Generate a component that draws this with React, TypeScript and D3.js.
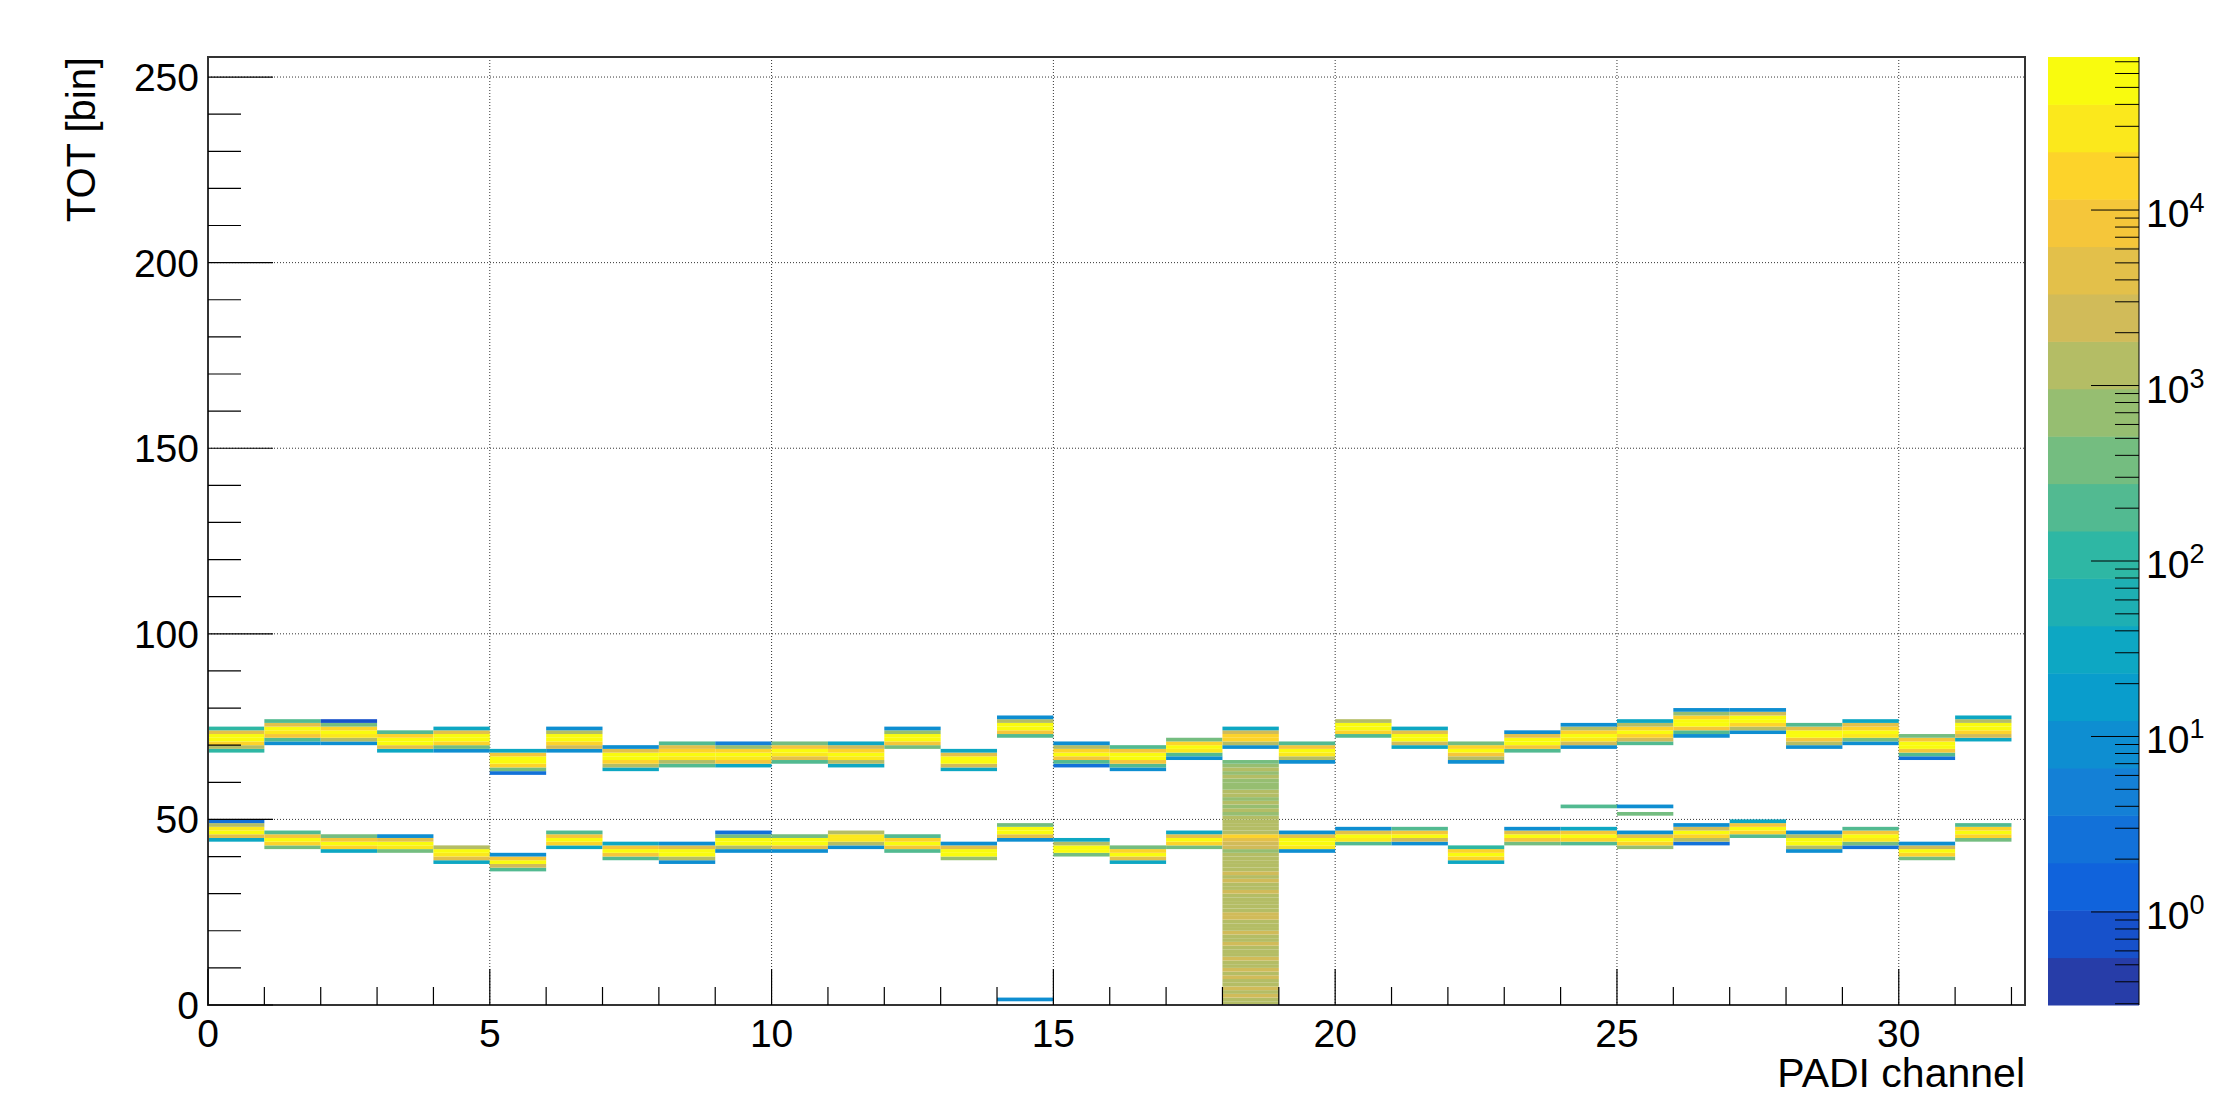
import { useEffect } from "react";
import * as d3 from "d3";

// histogram axes (x: PADI channel, y: TOT bin, z: counts, log)
const xRange: [number, number] = [0, 32.24];
const yRange: [number, number] = [0, 255.4];
const zRange: [number, number] = [0.295, 74500];
const nContours = 20;

const xMajorTicks = [0, 5, 10, 15, 20, 25, 30];
const yMajorTicks = [0, 50, 100, 150, 200, 250];
const zDecades = [0, 1, 2, 3, 4];

// upper TOT cluster per channel: first bin and counts (bottom -> top)
const upperStart = [68, 70, 70, 68, 68, 62, 68, 63, 64, 64, 65, 64, 69, 63, 72, 64,
  63, 66, 69, 65, 72, 69, 65, 68, 69, 70, 72, 73, 69, 70, 66, 71];
const upperCounts: number[][] = [
  [110, 1300, 12000, 50000, 50000, 4500, 110],
  [9, 150, 8000, 30000, 50000, 4500, 150],
  [9, 1300, 30000, 50000, 12000, 500, 1],
  [30, 4500, 40000, 50000, 15000, 150],
  [8, 400, 12000, 50000, 50000, 4500, 30],
  [2, 400, 15000, 50000, 50000, 8000, 30],
  [9, 2000, 15000, 50000, 40000, 1300, 9],
  [30, 1300, 15000, 40000, 40000, 4500, 9],
  [150, 1300, 30000, 50000, 20000, 4500, 150],
  [30, 10000, 30000, 40000, 15000, 600, 4],
  [150, 4500, 30000, 50000, 10000, 400],
  [30, 1300, 30000, 40000, 15000, 2000, 30],
  [500, 10000, 50000, 40000, 600, 9],
  [30, 3000, 50000, 50000, 4500, 30],
  [150, 10000, 50000, 40000, 1300, 9],
  [3, 150, 10000, 40000, 15000, 1300, 9],
  [8, 150, 10000, 40000, 50000, 10000, 150],
  [9, 200, 30000, 50000, 12000, 500],
  [9, 1300, 12000, 15000, 3000, 30],
  [9, 1300, 30000, 50000, 10000, 150],
  [200, 15000, 50000, 40000, 1300],
  [30, 3000, 40000, 50000, 4500, 30],
  [9, 1000, 10000, 40000, 15000, 500],
  [150, 10000, 40000, 50000, 4500, 12],
  [12, 3000, 30000, 50000, 15000, 1300, 9],
  [150, 3000, 15000, 50000, 15000, 1300, 30],
  [9, 150, 10000, 40000, 50000, 15000, 600, 8],
  [8, 1000, 12000, 50000, 40000, 3000, 9],
  [9, 1300, 10000, 50000, 40000, 4500, 150],
  [9, 500, 30000, 50000, 15000, 4500, 30],
  [3, 150, 10000, 40000, 50000, 10000, 400],
  [30, 3000, 12000, 50000, 40000, 1300, 30],
];

// lower TOT cluster per channel (channel 18 is covered by its full column)
const lowerStart = [44, 42, 41, 41, 38, 36, 42, 39, 38, 41, 41, 42, 41, 39, 44, 40,
  38, 42, -1, 41, 43, 43, 38, 43, 43, 42, 43, 45, 41, 42, 39, 44];
const lowerCounts: number[][] = [
  [30, 4500, 50000, 30000, 1300, 2],
  [400, 15000, 50000, 10000, 150],
  [30, 15000, 50000, 10000, 500],
  [500, 30000, 50000, 4500, 9],
  [30, 4500, 30000, 50000, 1300],
  [150, 2000, 50000, 10000, 9],
  [30, 15000, 50000, 10000, 150],
  [150, 10000, 50000, 10000, 30],
  [8, 1300, 40000, 40000, 4500, 9],
  [9, 1300, 40000, 40000, 500, 2],
  [9, 4500, 40000, 40000, 300],
  [9, 1000, 30000, 30000, 1500],
  [150, 10000, 50000, 15000, 150],
  [700, 40000, 40000, 4500, 12],
  [9, 4500, 40000, 40000, 500],
  [500, 40000, 40000, 1300, 30],
  [30, 4500, 40000, 15000, 500],
  [400, 15000, 50000, 4500, 30],
  [],
  [8, 30000, 40000, 40000, 4500, 9],
  [150, 30000, 50000, 4500, 8],
  [9, 3000, 50000, 10000, 150],
  [30, 12000, 50000, 15000, 100],
  [300, 10000, 50000, 4500, 9],
  [150, 12000, 50000, 10000, 30],
  [600, 15000, 50000, 4500, 9],
  [3, 1300, 15000, 40000, 3000, 9],
  [150, 12000, 50000, 10000, 30],
  [9, 1300, 40000, 50000, 1300, 9],
  [3, 500, 30000, 50000, 10000, 150],
  [500, 15000, 50000, 3000, 9],
  [400, 12000, 50000, 15000, 150],
];

// channel 18: filled from bin 0 up to bin 65
const column18Channel = 18;
const column18Counts = [
  1300, 1400, 1800, 1500, 1800, 1500, 1400, 1900, 1500, 1800,
  1300, 1400, 1900, 1500, 1300, 1400, 2000, 1300, 1400, 1900,
  1500, 1300, 1400, 2200, 2000, 1500, 1300, 1400, 1300, 1400,
  1900, 1200, 1300, 2000, 1200, 2000, 1300, 1300, 1300, 1300,
  1100, 700, 2000, 3000, 4000, 12000, 1500, 1400, 1300, 1300,
  1200, 800, 1000, 800, 1100, 900, 1200, 1100, 700, 800,
  700, 1200, 700, 1100, 600, 300,
];

// isolated cells: [channel, bin, counts]
const strayCells: [number, number, number][] = [
  [14, 1, 9],
  [24, 53, 150],
  [25, 53, 9],
  [25, 51, 300],
];

// ROOT kBird palette
const birdStops = [0, 0.125, 0.25, 0.375, 0.5, 0.625, 0.75, 0.875, 1];
const birdR = [0.2082, 0.0592, 0.078, 0.0232, 0.1802, 0.5301, 0.8186, 0.9956, 0.9764];
const birdG = [0.1664, 0.3599, 0.5041, 0.6419, 0.7178, 0.7492, 0.7328, 0.7862, 0.9832];
const birdB = [0.5293, 0.8684, 0.8385, 0.7914, 0.6425, 0.4662, 0.3499, 0.1968, 0.0539];

function bird(t: number) {
  let i = 1;
  while (i < birdStops.length - 1 && t > birdStops[i]) i++;
  const f = (t - birdStops[i - 1]) / (birdStops[i] - birdStops[i - 1]);
  const ch = (a: number[]) => Math.round(255 * (a[i - 1] + f * (a[i] - a[i - 1])));
  return `rgb(${ch(birdR)},${ch(birdG)},${ch(birdB)})`;
}

const bandColor = (k: number) => bird(Math.floor(((k + 0.99) * 255) / nContours) / 254);

function zBand(z: number) {
  const lo = Math.log10(zRange[0]);
  const hi = Math.log10(zRange[1]);
  const k = Math.floor(((Math.log10(z) - lo) / (hi - lo)) * nContours);
  return Math.max(0, Math.min(nContours - 1, k));
}

const font = "'Liberation Sans', Arial, sans-serif";

export default function App() {
  useEffect(() => {
    document.body.style.margin = "0";
  }, []);

  const frame = { x0: 208, x1: 2025, y0: 57, y1: 1005 };
  const x = d3.scaleLinear().domain(xRange).range([frame.x0, frame.x1]);
  const y = d3.scaleLinear().domain(yRange).range([frame.y1, frame.y0]);
  const bar = { x0: 2048, x1: 2139 };
  const z = d3.scaleLog().domain(zRange).range([frame.y1, frame.y0]);

  // collect cells
  const cells: { c: number; b: number; n: number }[] = [];
  upperCounts.forEach((arr, c) => arr.forEach((n, i) => cells.push({ c, b: upperStart[c] + i, n })));
  lowerCounts.forEach((arr, c) => arr.forEach((n, i) => cells.push({ c, b: lowerStart[c] + i, n })));
  column18Counts.forEach((n, b) => cells.push({ c: column18Channel, b, n }));
  strayCells.forEach(([c, b, n]) => cells.push({ c, b, n }));

  const xMinor = d3.range(0, 33).filter((v) => !xMajorTicks.includes(v));
  const yMinor = d3.range(0, 251, 10).filter((v) => !yMajorTicks.includes(v));
  const zMinor: number[] = [];
  [-1, 0, 1, 2, 3, 4].forEach((e) =>
    d3.range(2, 10).forEach((m) => {
      const v = m * Math.pow(10, e);
      if (v > zRange[0] && v < zRange[1]) zMinor.push(v);
    })
  );

  const bands = d3.range(nContours);
  const lz0 = Math.log10(zRange[0]);
  const lz1 = Math.log10(zRange[1]);
  const bandEdge = (k: number) => Math.pow(10, lz0 + ((lz1 - lz0) * k) / nContours);

  return (
    <svg width={2233} height={1108} style={{ display: "block", background: "#fff" }} fontFamily={font}>
      {/* grid */}
      <g stroke="#000" strokeWidth={1} strokeDasharray="1,2" opacity={0.8}>
        {xMajorTicks.filter((v) => v > 0).map((v) => (
          <line key={"gx" + v} x1={x(v)} x2={x(v)} y1={frame.y0} y2={frame.y1} />
        ))}
        {yMajorTicks.filter((v) => v > 0).map((v) => (
          <line key={"gy" + v} x1={frame.x0} x2={frame.x1} y1={y(v)} y2={y(v)} />
        ))}
      </g>

      {/* histogram cells */}
      <g>
        {cells.map((d, i) => (
          <rect
            key={i}
            x={x(d.c)}
            y={y(d.b + 1)}
            width={x(d.c + 1) - x(d.c)}
            height={y(d.b) - y(d.b + 1)}
            fill={bandColor(zBand(d.n))}
          />
        ))}
      </g>

      {/* frame */}
      <rect x={frame.x0} y={frame.y0} width={frame.x1 - frame.x0} height={frame.y1 - frame.y0}
        fill="none" stroke="#333" strokeWidth={2} />

      {/* x axis ticks */}
      <g stroke="#000" strokeWidth={1.2}>
        {xMajorTicks.map((v) => (
          <line key={"xM" + v} x1={x(v)} x2={x(v)} y1={frame.y1} y2={frame.y1 - 36} />
        ))}
        {xMinor.map((v) => (
          <line key={"xm" + v} x1={x(v)} x2={x(v)} y1={frame.y1} y2={frame.y1 - 18} />
        ))}
        {yMajorTicks.map((v) => (
          <line key={"yM" + v} x1={frame.x0} x2={frame.x0 + 65} y1={y(v)} y2={y(v)} />
        ))}
        {yMinor.map((v) => (
          <line key={"ym" + v} x1={frame.x0} x2={frame.x0 + 33} y1={y(v)} y2={y(v)} />
        ))}
      </g>

      {/* tick labels */}
      <g fontSize={39} fill="#000">
        {xMajorTicks.map((v) => (
          <text key={"xl" + v} x={x(v)} y={1047} textAnchor="middle">{v}</text>
        ))}
        {yMajorTicks.map((v) => (
          <text key={"yl" + v} x={199} y={y(v)} dy="0.36em" textAnchor="end">{v}</text>
        ))}
      </g>

      {/* axis titles */}
      <text x={frame.x1} y={1087} fontSize={41} textAnchor="end">PADI channel</text>
      <text transform={`translate(95,${frame.y0}) rotate(-90)`} fontSize={40} textAnchor="end">TOT [bin]</text>

      {/* color palette */}
      <g>
        {bands.map((k) => (
          <rect key={"pb" + k} x={bar.x0} width={bar.x1 - bar.x0}
            y={z(bandEdge(k + 1))} height={z(bandEdge(k)) - z(bandEdge(k + 1)) + 0.5}
            fill={bandColor(k)} />
        ))}
      </g>
      <g stroke="#000" strokeWidth={1}>
        {zDecades.map((e) => (
          <line key={"zM" + e} x1={bar.x1} x2={bar.x1 - 48} y1={z(Math.pow(10, e))} y2={z(Math.pow(10, e))} />
        ))}
        {zMinor.map((v, i) => (
          <line key={"zm" + i} x1={bar.x1} x2={bar.x1 - 24} y1={z(v)} y2={z(v)} />
        ))}
        <line x1={bar.x1} x2={bar.x1} y1={frame.y0} y2={frame.y1} />
      </g>
      <g fill="#000">
        {zDecades.map((e) => (
          <text key={"zl" + e} x={2146} y={z(Math.pow(10, e)) + 17} fontSize={39}>
            10<tspan fontSize={27} dy={-15}>{e}</tspan>
          </text>
        ))}
      </g>
    </svg>
  );
}
